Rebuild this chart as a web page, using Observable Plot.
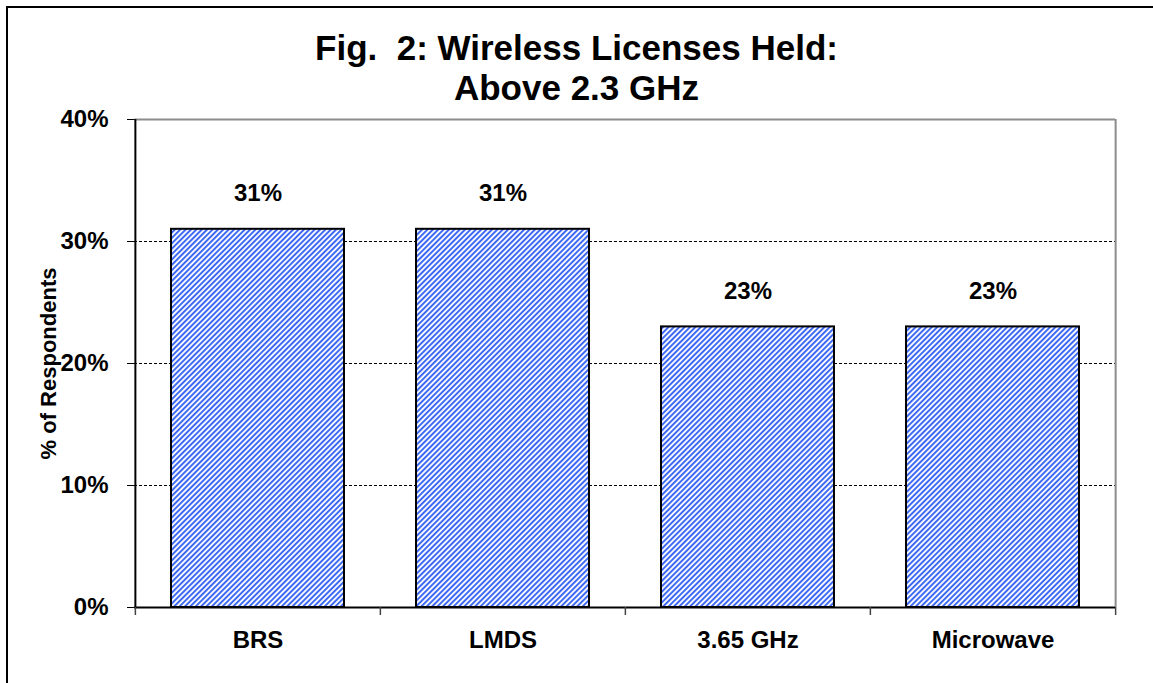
<!DOCTYPE html>
<html>
<head>
<meta charset="utf-8">
<script src="https://cdn.jsdelivr.net/npm/d3@7"></script>
<script src="https://cdn.jsdelivr.net/npm/@observablehq/plot@0.6"></script>
<style>
  html, body { margin: 0; padding: 0; background: #fff; overflow: hidden; }
  #wrap { position: relative; width: 1153px; height: 683px; }
  #border { position: absolute; left: 6px; top: 6px; width: 1200px; height: 720px;
            border-left: 2px solid #000; border-top: 2px solid #000; box-sizing: border-box; }
  #title { position: absolute; left: 0; top: 28px; width: 1153px; text-align: center;
           font-family: "Liberation Sans", Arial, sans-serif; font-weight: bold; font-size: 35px;
           line-height: 40px; color: #000; white-space: pre; }
  #chart { position: absolute; left: 0; top: 0; }
</style>
</head>
<body>
<div id="wrap">
  <div id="border"></div>
  <div id="chart"></div>
  <div id="title">Fig.  2: Wireless Licenses Held:
Above 2.3 GHz</div>
</div>
<script>
const categories = ["BRS", "LMDS", "3.65 GHz", "Microwave"];
const values = [31, 31, 23, 23];
const yTicks = [0, 10, 20, 30, 40];
const gridTicks = [10, 20, 30];
const yTitle = ["% of Respondents"];

const data = categories.map((c, i) => ({category: c, value: values[i]}));

const W = 1153, H = 683;
const mL = 134, mR = 38, mT = 119, mB = 76;
const bw = (W - mL - mR) / categories.length;
const barInset = 36;

const font = "'Liberation Sans', Arial, sans-serif";

const chart = Plot.plot({
  width: W,
  height: H,
  marginLeft: mL,
  marginRight: mR,
  marginTop: mT,
  marginBottom: mB,
  style: {fontFamily: font, fontWeight: "bold", fontSize: "22px", color: "#000", background: "transparent"},
  x: {domain: categories, padding: 0, label: null},
  y: {domain: [0, 40], label: null},
  marks: [
    Plot.ruleY(gridTicks, {stroke: "#000", strokeWidth: 1, strokeDasharray: "3,2"}),
    Plot.ruleY([40], {stroke: "#8c8c8c", strokeWidth: 2}),
    Plot.ruleX([categories[categories.length - 1]], {stroke: "#8c8c8c", strokeWidth: 2, dx: bw / 2}),
    Plot.barY(data, {x: "category", y: "value", fill: "url(#hatch)", stroke: "#000", strokeWidth: 2,
      insetLeft: barInset, insetRight: barInset}),
    Plot.text(data, {x: "category", y: "value", text: d => d.value + "%", dy: -36,
      fontSize: 24, fontWeight: "bold", fill: "#000"}),
    Plot.axisY(yTicks, {tickFormat: d => d + "%", tickSize: 7, tickPadding: 19, fontSize: 24,
      label: null}),
    Plot.text(yTitle, {frameAnchor: "left", textAnchor: "middle", dx: -86, rotate: -90, fontSize: 22,
      fontWeight: "bold", fill: "#000", text: d => d}),
    Plot.axisX({tickSize: 0, tickPadding: 23, fontSize: 24}),
    Plot.ruleY([0], {stroke: "#000", strokeWidth: 2}),
    Plot.ruleX([categories[0]], {stroke: "#000", strokeWidth: 2, dx: -bw / 2}),
    Plot.ruleX(categories, {y1: 0, y2: 0, insetBottom: -8, dx: -bw / 2, stroke: "#444", strokeWidth: 1.5}),
    Plot.ruleX([categories[categories.length - 1]], {y1: 0, y2: 0, insetBottom: -8, dx: bw / 2, stroke: "#444", strokeWidth: 1.5})
  ]
});

const ns = "http://www.w3.org/2000/svg";
const defs = document.createElementNS(ns, "defs");
defs.innerHTML = `<pattern id="hatch" patternUnits="userSpaceOnUse" width="3.8" height="3.8" patternTransform="rotate(45)">
  <rect x="0" y="0" width="3.8" height="3.8" fill="#ffffff"></rect>
  <rect x="0" y="0" width="2" height="3.8" fill="#3d68f2"></rect>
</pattern>`;
chart.insertBefore(defs, chart.firstChild);

document.getElementById("chart").appendChild(chart);
</script>
</body>
</html>
